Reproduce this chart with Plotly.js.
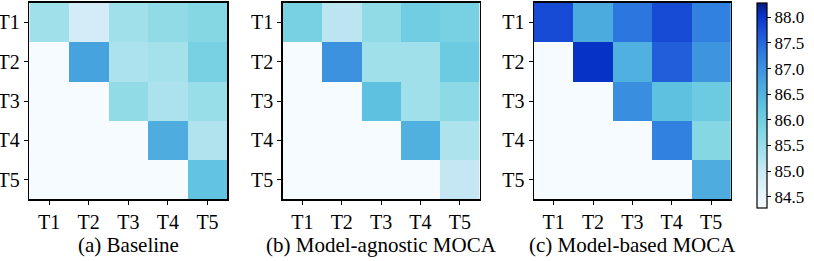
<!DOCTYPE html>
<html>
<head>
<meta charset="utf-8">
<script src="https://cdn.plot.ly/plotly-3.0.1.min.js"></script>
<style>html,body{margin:0;padding:0;background:#fff;}#chart{width:814px;height:261px;}</style>
</head>
<body>
<div id="chart"></div>
<script>
const tasks = ["T1", "T2", "T3", "T4", "T5"];
const panelTitles = ["(a) Baseline", "(b) Model-agnostic MOCA", "(c) Model-based MOCA"];

const baseline = [
  [85.4, 84.85, 85.4, 85.6, 85.75],
  [null, 86.75, 85.3, 85.35, 85.9],
  [null, null, 85.6, 85.3, 85.5],
  [null, null, null, 86.6, 85.25],
  [null, null, null, null, 86.2]
];
const agnostic = [
  [85.9, 85.15, 85.6, 86.0, 85.9],
  [null, 87.0, 85.4, 85.4, 86.05],
  [null, null, 86.25, 85.4, 85.65],
  [null, null, null, 86.55, 85.28],
  [null, null, null, null, 85.05]
];
const modelBased = [
  [87.8, 86.65, 87.35, 87.8, 87.25],
  [null, 88.05, 86.55, 87.6, 86.95],
  [null, null, 87.05, 86.25, 86.05],
  [null, null, null, 87.25, 85.75],
  [null, null, null, null, 86.6]
];
const cbTicks = [84.5, 85.0, 85.5, 86.0, 86.5, 87.0, 87.5, 88.0];

const zmin = 84.28, zmax = 88.28;
const colorscale = [
  [0.0, '#f5fbfe'],
  [0.09, '#e0f2fa'],
  [0.185, '#c8e8f4'],
  [0.28, '#a0e0ea'],
  [0.38, '#80d6e2'],
  [0.5, '#5cc0e0'],
  [0.6, '#4aa8de'],
  [0.745, '#3080e0'],
  [0.8675, '#1a4fd8'],
  [0.94, '#0633c8'],
  [1.0, '#0a1a80']
];

const W = 814, H = 261;
const xd = [[29.3, 227.3], [282.7, 479.5], [534, 730.7]];
const yd = [1 - 199.3 / H, 1 - 2.7 / H];
const FAM = 'Liberation Serif, Times New Roman, serif';
function f(size) { return {family: FAM, size: size, color: '#000'}; }

const datasets = [baseline, agnostic, modelBased];
const traces = datasets.map((z, i) => ({
  type: 'heatmap',
  z: z,
  x: tasks,
  y: tasks,
  xaxis: i === 0 ? 'x' : 'x' + (i + 1),
  yaxis: i === 0 ? 'y' : 'y' + (i + 1),
  zmin: zmin, zmax: zmax,
  colorscale: colorscale,
  showscale: i === 2,
  hoverongaps: false,
  colorbar: i === 2 ? {
    x: 756.7 / W, xanchor: 'left',
    y: 1 - 3 / H, yanchor: 'top',
    len: 205.3 / H, lenmode: 'fraction',
    thickness: 10, thicknessmode: 'pixels',
    outlinewidth: 1.2, outlinecolor: '#000',
    tickvals: cbTicks,
    ticktext: cbTicks.map(v => v.toFixed(1)),
    ticks: 'outside', ticklen: 4, tickwidth: 1, tickcolor: '#000',
    tickfont: f(17),
    xpad: 0, ypad: 0
  } : undefined
}));

const layout = {
  width: W, height: H,
  margin: {l: 0, r: 0, t: 0, b: 0},
  paper_bgcolor: '#fff',
  plot_bgcolor: '#f5fbfe',
  showlegend: false,
  font: f(17),
  annotations: panelTitles.map((t, i) => ({
    text: t, xref: 'paper', yref: 'paper',
    x: (xd[i][0] + xd[i][1]) / 2 / W, y: 1 - 245 / H,
    xanchor: 'center', yanchor: 'middle', showarrow: false,
    font: f(21)
  }))
};
for (let i = 0; i < 3; i++) {
  const sx = i === 0 ? '' : String(i + 1);
  layout['xaxis' + sx] = {
    domain: [xd[i][0] / W, xd[i][1] / W],
    anchor: 'y' + sx,
    type: 'category', categoryarray: tasks,
    showline: true, mirror: true, linecolor: '#000', linewidth: 1.5,
    ticks: 'outside', ticklen: 4, tickwidth: 1, tickcolor: '#000',
    tickfont: f(20),
    showgrid: false, zeroline: false, fixedrange: true
  };
  layout['yaxis' + sx] = {
    domain: yd,
    anchor: 'x' + sx,
    type: 'category', categoryarray: tasks,
    autorange: 'reversed',
    showline: true, mirror: true, linecolor: '#000', linewidth: 1.5,
    ticks: 'outside', ticklen: 4, tickwidth: 1, tickcolor: '#000',
    tickfont: f(20),
    showgrid: false, zeroline: false, fixedrange: true
  };
}

Plotly.newPlot('chart', traces, layout, {staticPlot: true, displayModeBar: false});
</script>
</body>
</html>
